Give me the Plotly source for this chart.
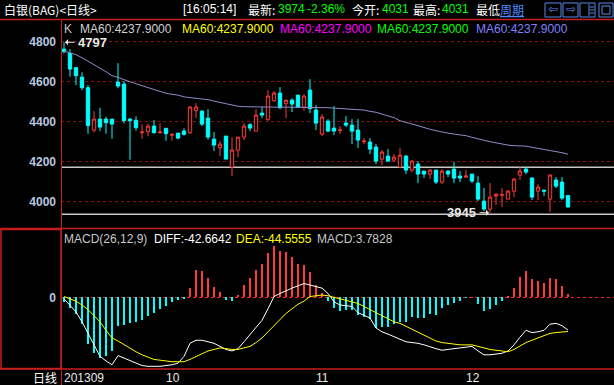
import plotly.graph_objects as go

W, H = 614, 385

# ---------------- data ----------------
opens = [4763, 4742, 4670, 4623, 4570, 4358, 4413, 4413, 4413, 4598,
         4588, 4413, 4407, 4345, 4350, 4378, 4345, 4367, 4333, 4343,
         4353, 4345, 4455, 4453, 4418, 4313, 4270, 4328, 4173, 4258,
         4323, 4385, 4353, 4443, 4412, 4505, 4543, 4490, 4508, 4533,
         4473, 4558, 4458, 4338, 4403, 4368, 4356, 4393, 4383, 4358,
         4300, 4298, 4273, 4213, 4228, 4208, 4173, 4228, 4158, 4188,
         4153, 4138, 4158, 4098, 4153, 4163, 4128, 4123, 4138, 4093,
         4003, 3963, 4028, 4033, 4013, 4053, 4133, 4163, 4118, 4053,
         4058, 4013, 4108, 4098, 4031]
highs = [4797, 4763, 4672, 4647, 4583, 4453, 4470, 4425, 4413, 4693,
         4603, 4418, 4427, 4387, 4390, 4408, 4393, 4367, 4345, 4343,
         4367, 4478, 4493, 4458, 4463, 4348, 4303, 4328, 4323, 4323,
         4393, 4393, 4463, 4473, 4558, 4553, 4573, 4512, 4517, 4533,
         4538, 4613, 4483, 4438, 4413, 4478, 4378, 4428, 4413, 4413,
         4318, 4318, 4288, 4258, 4263, 4238, 4268, 4233, 4208, 4203,
         4153, 4163, 4158, 4163, 4158, 4198, 4153, 4158, 4138, 4128,
         4068, 4093, 4043, 4068, 4058, 4118, 4173, 4173, 4123, 4088,
         4058, 4138, 4123, 4123, 4031]
lows = [4742, 4625, 4583, 4558, 4340, 4347, 4353, 4340, 4315, 4567,
        4392, 4210, 4355, 4315, 4327, 4340, 4340, 4305, 4305, 4312,
        4330, 4338, 4418, 4378, 4310, 4253, 4228, 4213, 4128, 4223,
        4308, 4353, 4353, 4418, 4403, 4500, 4463, 4418, 4448, 4473,
        4455, 4443, 4358, 4328, 4348, 4333, 4338, 4373, 4288, 4268,
        4288, 4238, 4188, 4183, 4198, 4198, 4173, 4138, 4148, 4093,
        4118, 4113, 4088, 4088, 4123, 4093, 4098, 4118, 4093, 4003,
        3953, 3945, 3983, 3973, 4013, 4023, 4108, 4138, 4008, 4008,
        4028, 3948, 4068, 4008, 3968]
closes = [4750, 4663, 4630, 4570, 4380, 4413, 4373, 4395, 4388, 4578,
          4405, 4405, 4370, 4348, 4378, 4345, 4348, 4340, 4335, 4318,
          4337, 4473, 4473, 4388, 4323, 4283, 4288, 4213, 4258, 4323,
          4378, 4368, 4433, 4433, 4528, 4543, 4470, 4507, 4488, 4473,
          4528, 4465, 4393, 4423, 4353, 4353, 4358, 4383, 4353, 4308,
          4303, 4263, 4203, 4248, 4203, 4223, 4233, 4158, 4203, 4138,
          4138, 4158, 4098, 4153, 4138, 4118, 4118, 4128, 4103, 4013,
          3963, 4023, 4038, 4035, 4053, 4113, 4153, 4148, 4023, 4073,
          4053, 4133, 4078, 4018, 3974]
ma60 = [4753, 4745, 4735, 4720, 4703, 4685, 4668, 4650, 4630, 4622,
        4610, 4598, 4590, 4580, 4570, 4562, 4552, 4542, 4537, 4533,
        4524, 4520, 4518, 4515, 4510, 4503, 4496, 4488, 4481, 4477,
        4475, 4474, 4473, 4473, 4473, 4473, 4473, 4473, 4473, 4473,
        4473, 4473, 4473, 4472, 4470, 4468, 4467, 4466, 4462, 4460,
        4458, 4452, 4447, 4438, 4430, 4420, 4405, 4398, 4388, 4380,
        4370, 4362, 4355, 4348, 4343, 4338, 4335, 4330, 4322, 4316,
        4307, 4300, 4294, 4288, 4283, 4280, 4279, 4278, 4272, 4267,
        4262, 4255, 4250, 4245, 4237.9]
diff = [-2, -10, -19, -32, -47, -62, -77, -83, -88, -76,
        -79, -82, -86, -89, -90, -90, -90, -89, -88, -86,
        -77, -60, -56, -56, -58, -60, -64, -68, -70, -67,
        -58, -49, -40, -30, -15, 1, 5, 9, 12, 15,
        18, 16, 14, 12, 5, -6, -10, -11, -12, -20,
        -24, -27, -40, -45, -48, -51, -54, -58, -59, -60,
        -62, -65, -67, -69, -68, -67, -66, -65, -64, -70,
        -75, -75, -74, -73, -70, -62, -52, -43, -46, -45,
        -43, -35, -34, -37, -42.6642]
dea = [1, -2, -5, -10, -16, -24, -32, -43, -53, -57,
       -62, -66, -71, -75, -78, -81, -82, -83, -84, -84,
       -84, -81, -77, -73, -70, -68, -66, -67, -68, -68,
       -66, -64, -59, -53, -45, -37, -29, -21, -15, -9,
       -5, 1, 2, 3, 2, 0, -2, -4, -6, -8,
       -12, -16, -21, -25, -29, -32, -34, -38, -42, -46,
       -50, -54, -57, -59, -60, -61, -62, -62, -62, -64,
       -66, -68, -69, -70, -71, -68, -63, -59, -56, -53,
       -50, -47, -46, -45, -44.5555]
macd = [-6.5, -14.3, -22, -35, -61, -73, -79.5, -76, -70, -38,
        -36, -33, -32, -29, -24, -20, -15, -11.3, -6.5, -3,
        -1, 12.5, 35.6, 34.3, 25.6, 13.8, 7.3, -3, -4.8, 3,
        16, 25.6, 35.6, 43.4, 58, 67, 60, 58.7, 52.5, 43.4,
        42, 33.4, 16, 5, -4.8, -13.5, -17.8, -16.5, -16.5, -23,
        -25.3, -28.7, -39.6, -38.3, -38.3, -35.2, -31.8, -31.8, -25.3, -26.6,
        -26.6, -22.2, -23, -14.3, -10, -7, -4.8, -0.5, 0.3, -9,
        -17.8, -15.3, -10, -4.8, 0.5, 12.5, 27, 34.3, 23.9, 21.3,
        18.3, 25.6, 23.9, 14.7, 3.7828]
month_ticks = [0, 17, 42, 67]
month_labels = ["201309", "10", "11", "12"]
price_ticks = [4000, 4200, 4400, 4600, 4800]
level_lines = [4172, 3937]
high_mark = 4797
low_mark = 3945
quote_last = "3974"
quote_pct = "-2.36%"
quote_open = "4031"
quote_high = "4031"

# ---------------- styling ----------------
RED = "#ff3c3c"
CYAN = "#00ffff"
FRAME = "#c81e1e"
GRID = "#8c1010"
LBL = "#b8c8e0"
FONT = "Liberation Sans, Arial, sans-serif"
CJK = "Noto Sans CJK SC, sans-serif"
MARK = "#e8e8e8"

idx = list(range(len(closes)))
low_idx = lows.index(low_mark)
high_idx = highs.index(high_mark)


def px(x):
    return x / W


def py(y):
    return 1 - y / H


fig = go.Figure()

fig.add_trace(go.Candlestick(
    x=idx, open=opens, high=highs, low=lows, close=closes,
    increasing=dict(line=dict(color=RED, width=1), fillcolor="#000000"),
    decreasing=dict(line=dict(color=CYAN, width=1), fillcolor=CYAN),
    whiskerwidth=0, xaxis="x", yaxis="y", hoverinfo="skip"))

fig.add_trace(go.Scatter(x=idx, y=ma60, mode="lines",
                         line=dict(color="#8c8cc8", width=1),
                         xaxis="x", yaxis="y", hoverinfo="skip"))

fig.add_trace(go.Bar(x=idx, y=macd, width=0.33,
                     marker=dict(color=[RED if v >= 0 else CYAN for v in macd],
                                 line=dict(width=0)),
                     xaxis="x2", yaxis="y2", hoverinfo="skip"))
fig.add_trace(go.Scatter(x=idx, y=diff, mode="lines",
                         line=dict(color="#ffffff", width=1),
                         xaxis="x2", yaxis="y2", hoverinfo="skip"))
fig.add_trace(go.Scatter(x=idx, y=dea, mode="lines",
                         line=dict(color="#ffff00", width=1),
                         xaxis="x2", yaxis="y2", hoverinfo="skip"))

xr = [-0.5, (W - 61) / 6 - 0.5]
xdom = [px(61), 1]

shapes = []
for lv in level_lines:
    shapes.append(dict(type="line", xref="paper", yref="y", x0=px(61), x1=1,
                       y0=lv, y1=lv, line=dict(color="#c8c8c8", width=1.5), layer="below"))
shapes += [
    dict(type="line", xref="paper", yref="paper", x0=0, x1=1, y0=py(19.5), y1=py(19.5),
         line=dict(color=FRAME, width=1.5)),
    dict(type="line", xref="paper", yref="paper", x0=px(61.5), x1=px(61.5), y0=py(19.5), y1=0,
         line=dict(color=FRAME, width=1)),
    dict(type="line", xref="paper", yref="paper", x0=0, x1=1, y0=py(228.5), y1=py(228.5),
         line=dict(color=FRAME, width=1.5)),
    dict(type="line", xref="paper", yref="paper", x0=0, x1=1, y0=py(369), y1=py(369),
         line=dict(color=FRAME, width=1.5)),
    dict(type="rect", xref="paper", yref="paper", x0=px(1), x1=px(61), y0=py(368.5), y1=py(229.5),
         line=dict(color=FRAME, width=1.5)),
]
ICON = "#5a8ae6"
for (a, b) in [(545, 561), (563, 578), (580, 595), (599, 613)]:
    shapes.append(dict(type="rect", xref="paper", yref="paper", x0=px(a), x1=px(b),
                       y0=py(17), y1=py(3), line=dict(color=ICON, width=1)))
shapes.append(dict(type="line", xref="paper", yref="paper", x0=px(589), x1=px(589),
                   y0=py(16), y1=py(4), line=dict(color=ICON, width=1)))
for yy in (7, 10, 13):
    shapes.append(dict(type="line", xref="paper", yref="paper", x0=px(590), x1=px(594),
                       y0=py(yy), y1=py(yy), line=dict(color=ICON, width=1)))
shapes.append(dict(type="rect", xref="paper", yref="paper", x0=px(602), x1=px(610),
                   y0=py(14), y1=py(6), line=dict(color=ICON, width=1)))

ann = []


def text(x, y, s, color, size=12, font=FONT, anchor="left", bold=False):
    ann.append(dict(x=px(x), y=py(y), xref="paper", yref="paper", text=s, showarrow=False,
                    xanchor=anchor, yanchor="middle",
                    font=dict(color=color, size=size, family=font,
                              weight="bold" if bold else "normal")))


# header
text(2, 9.5, "白银(BAG)<日线>", "#ffffff", 12, CJK)
text(181, 9.5, "[16:05:14]", "#ffffff", 12, FONT)
text(246, 9.5, "最新:", "#ffffff", 12, CJK)
text(276, 9.5, quote_last, "#00ff00", 12, FONT)
text(305, 9.5, quote_pct, "#00ff00", 12, FONT)
text(350, 9.5, "今开:", "#ffffff", 12, CJK)
text(380, 9.5, quote_open, "#00ff00", 12, FONT)
text(411, 9.5, "最高:", "#ffffff", 12, CJK)
text(440, 9.5, quote_high, "#00ff00", 12, FONT)
text(474, 9.5, "最低", "#ffffff", 12, CJK)
text(498, 9.5, "<u>周期</u>", "#4a8cff", 12, CJK)
text(553, 9.5, "⇦", ICON, 12, "DejaVu Sans", "center")
text(570.5, 9.5, "⇨", ICON, 12, "DejaVu Sans", "center")

# price legend
text(62, 29.5, "K", "#c8c8c8")
ma_colors = ["#d0d0d0", "#ffff00", "#ff00ff", "#00ff00", "#8080ff"]
ma_x = [78, 180, 278, 375, 474]
for cx, cc in zip(ma_x, ma_colors):
    text(cx, 29.5, "MA60:%.4f" % ma60[-1], cc)

# MACD legend
text(62, 239, "MACD(26,12,9)", "#c8c8c8")
text(152, 239, "DIFF:%.4f" % diff[-1], "#ffffff")
text(234, 239, "DEA:%.4f" % dea[-1], "#ffff00")
text(315, 239, "MACD:%.4f" % macd[-1], "#c8c8c8")

# date bar label
text(45, 377, "日线", "#ffffff", 12, CJK, "center")

# high / low markers: arrow drawn by the library, pointing at the extreme candle
ann.append(dict(x=high_idx, y=high_mark, xref="x", yref="y", text="", showarrow=True,
                ax=12, ay=0, axref="pixel", ayref="pixel", arrowhead=1, arrowsize=1,
                arrowwidth=1, arrowcolor=MARK, standoff=1))
ann.append(dict(x=high_idx, y=high_mark, xref="x", yref="y", text=str(high_mark),
                showarrow=False, xanchor="left", yanchor="middle", xshift=12,
                font=dict(color=MARK, size=13, family=FONT, weight="bold")))
ann.append(dict(x=low_idx, y=low_mark, xref="x", yref="y", text="", showarrow=True,
                ax=-12, ay=0, axref="pixel", ayref="pixel", arrowhead=1, arrowsize=1,
                arrowwidth=1, arrowcolor=MARK, standoff=1))
ann.append(dict(x=low_idx, y=low_mark, xref="x", yref="y", text=str(low_mark),
                showarrow=False, xanchor="right", yanchor="middle", xshift=-12,
                font=dict(color=MARK, size=13, family=FONT, weight="bold")))

fig.update_layout(
    width=W, height=H, margin=dict(l=0, r=0, t=0, b=0, pad=0),
    paper_bgcolor="#000000", plot_bgcolor="#000000",
    showlegend=False, boxgap=0.2, bargap=0,
    xaxis=dict(domain=xdom, range=xr, showgrid=False, zeroline=False, showticklabels=False,
               showline=False, rangeslider=dict(visible=False), anchor="y", fixedrange=True),
    yaxis=dict(domain=[py(228), py(19)], range=[3868.5, 4913.5], tickvals=price_ticks,
               showgrid=True, gridcolor=GRID, griddash="dot", gridwidth=1, zeroline=False,
               showline=False, ticks="", ticklabelstandoff=4, anchor="x",
               tickfont=dict(color=LBL, size=12, family=FONT, weight="bold"), fixedrange=True),
    xaxis2=dict(domain=xdom, range=xr, showgrid=False, zeroline=False, tickvals=month_ticks,
                ticktext=month_labels, ticks="", ticklabelposition="outside right",
                tickfont=dict(color="#e8e8e8", size=12, family=FONT), anchor="y2",
                showline=False, fixedrange=True),
    yaxis2=dict(domain=[py(369), py(228)], range=[-93.5, 90.4], tickvals=[0], ticktext=["0"],
                showgrid=True, gridcolor="#ff2020", griddash="dot", gridwidth=1, zeroline=False,
                showline=False, ticks="", ticklabelstandoff=4, anchor="x2",
                tickfont=dict(color=LBL, size=12, family=FONT, weight="bold"), fixedrange=True),
    shapes=shapes, annotations=ann,
)

fig.write_html("out.html", config={"displayModeBar": False},
               post_script="document.body.style.margin='0';document.body.style.overflow='hidden';document.body.style.background='#000';")
